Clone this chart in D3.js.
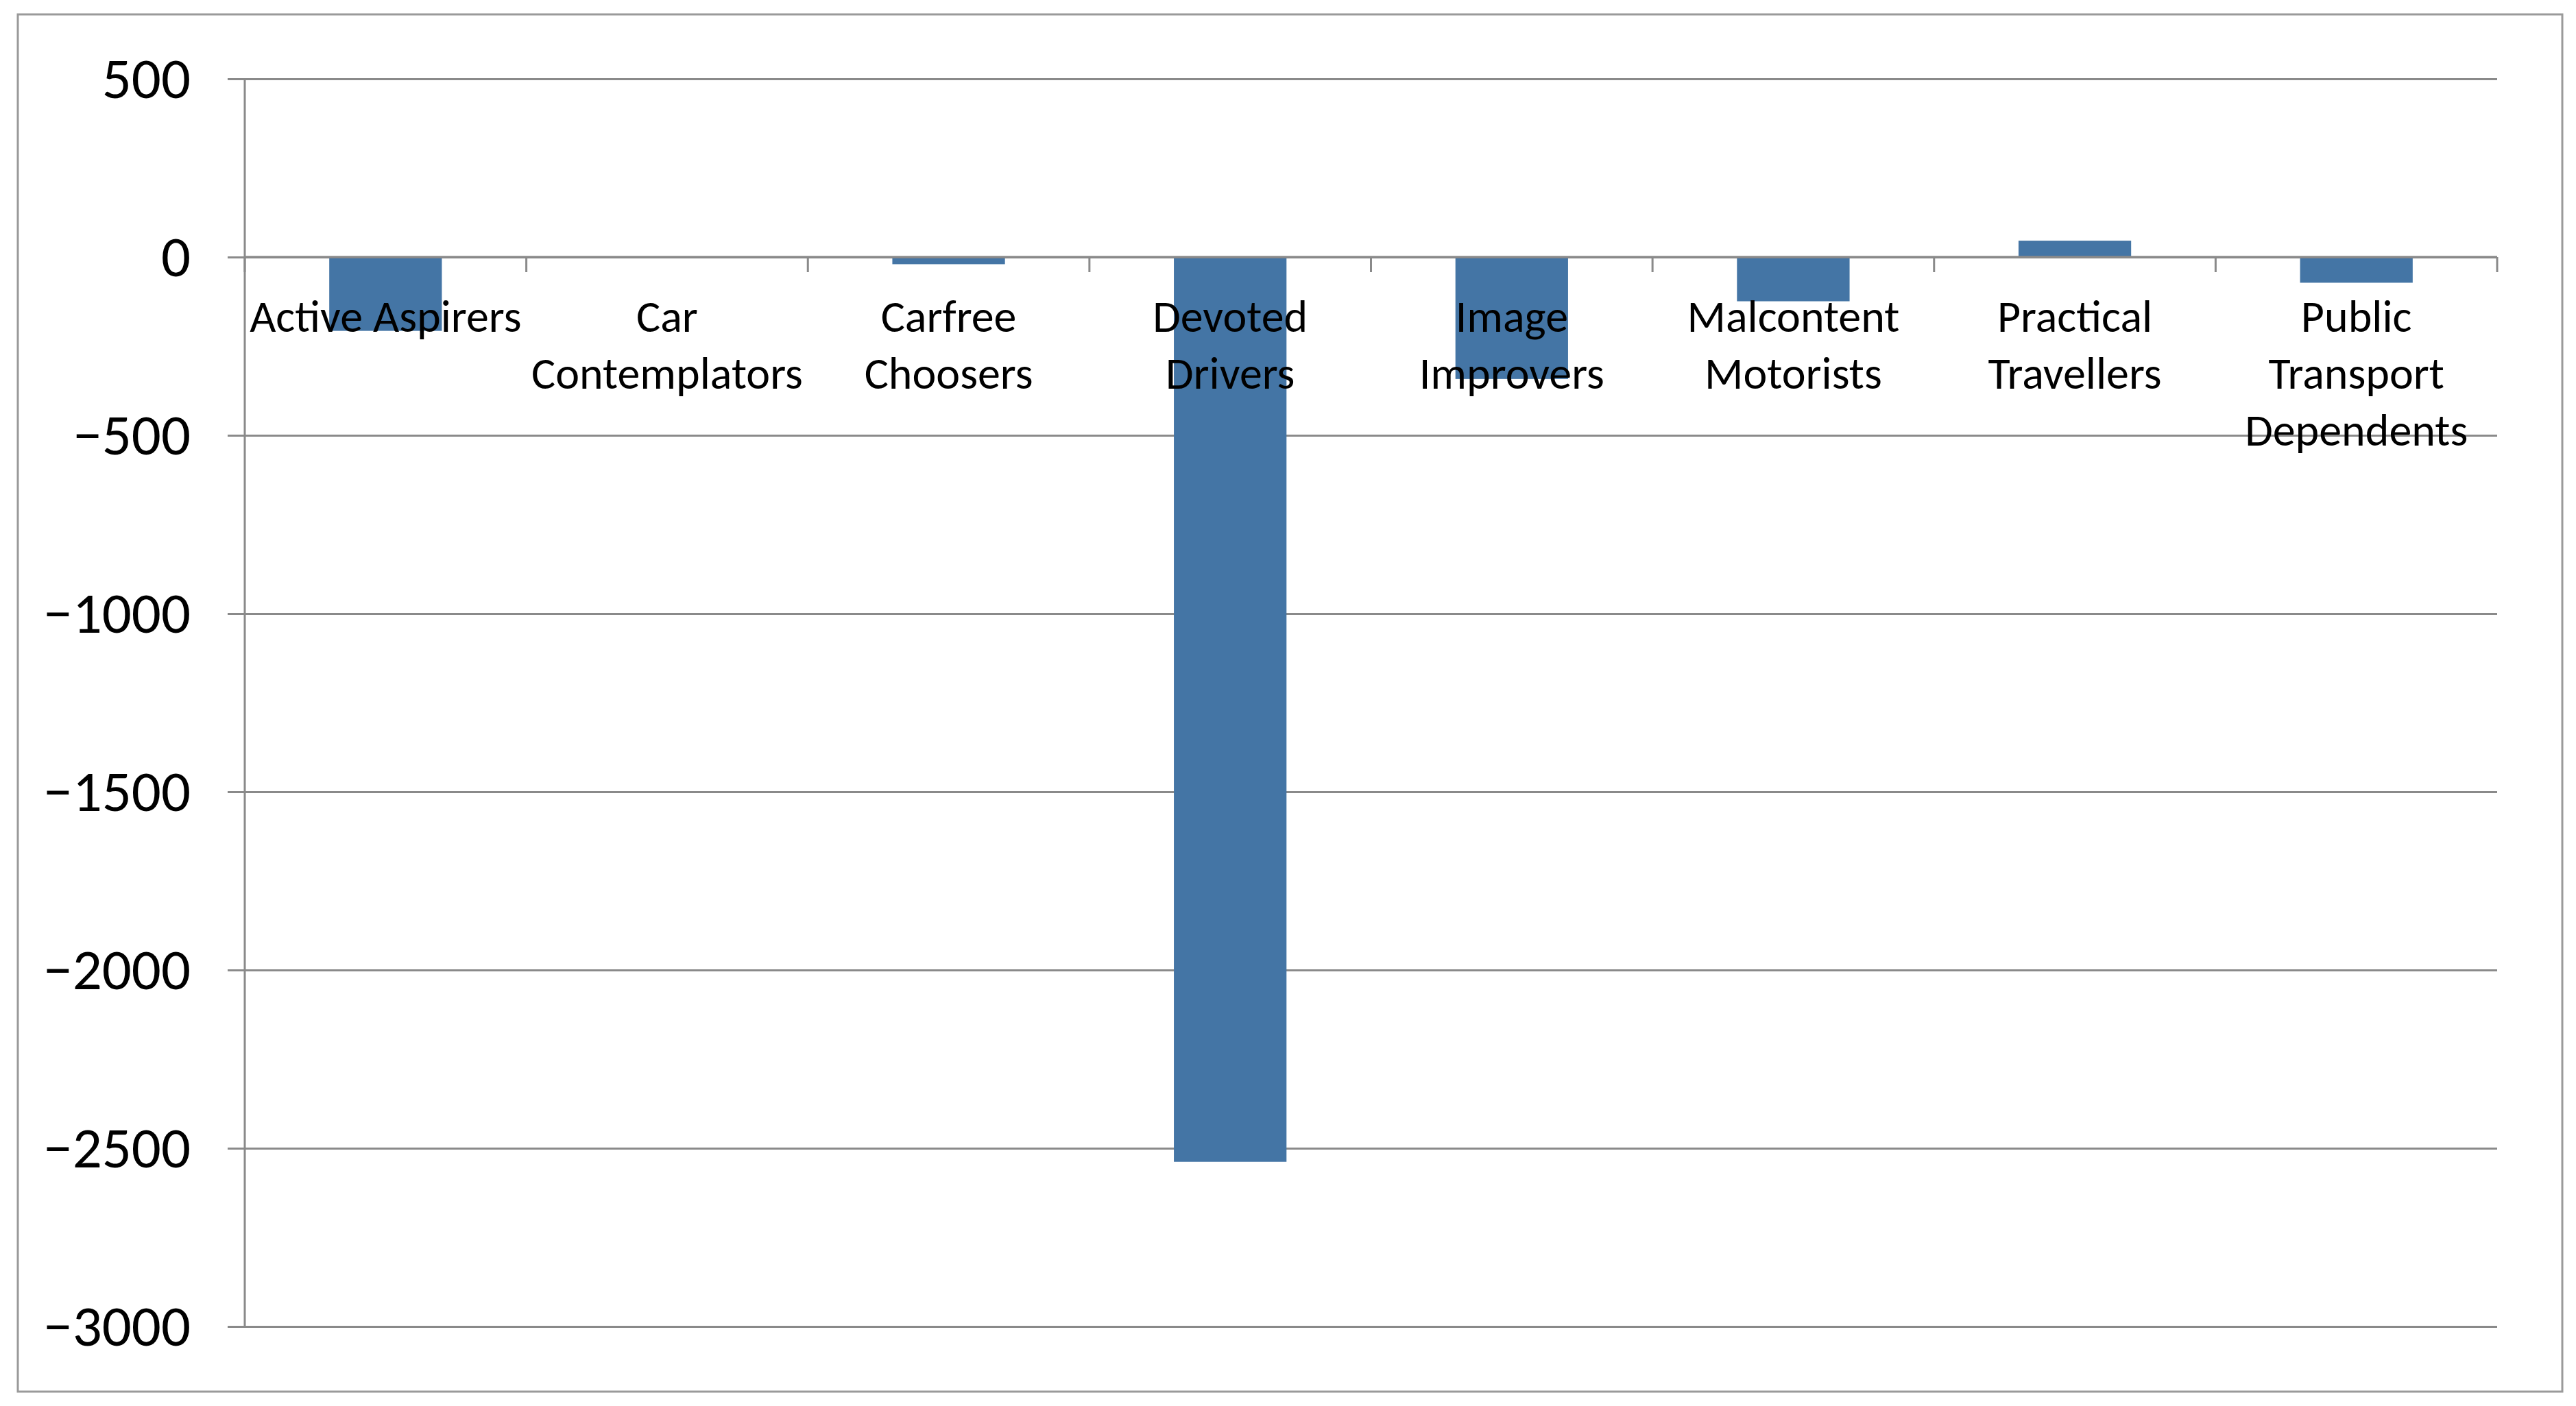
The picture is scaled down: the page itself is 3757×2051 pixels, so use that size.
<!DOCTYPE html>
<html>
<head>
<meta charset="utf-8">
<script src="https://cdn.jsdelivr.net/npm/d3@7"></script>
<style>
  body { margin: 0; background: #fff; }
  text { font-family: Carlito, Calibri, "Open Sans", sans-serif; fill: #000; }
</style>
</head>
<body>
<svg id="chart"></svg>
<script>
const categories = [
  "Active Aspirers",
  "Car Contemplators",
  "Carfree Choosers",
  "Devoted Drivers",
  "Image Improvers",
  "Malcontent Motorists",
  "Practical Travellers",
  "Public Transport Dependents",
];
// how the category labels wrap under the axis
const categoryLines = [
  ["Active Aspirers"],
  ["Car", "Contemplators"],
  ["Carfree", "Choosers"],
  ["Devoted", "Drivers"],
  ["Image", "Improvers"],
  ["Malcontent", "Motorists"],
  ["Practical", "Travellers"],
  ["Public", "Transport", "Dependents"],
];
const values = [-207, 0, -20, -2538, -342, -124, 46, -72];
const yTicks = [500, 0, -500, -1000, -1500, -2000, -2500, -3000];

const W = 3757, H = 2051;
const margin = { top: 115, right: 115, bottom: 116, left: 357 };
const plotW = W - margin.left - margin.right;
const plotH = H - margin.top - margin.bottom;
const gridColor = "#8a8a8a";

const svg = d3.select("#chart").attr("width", W).attr("height", H);

// outer chart border
svg.append("rect")
  .attr("x", 26).attr("y", 21)
  .attr("width", 3737 - 26).attr("height", 2030 - 21)
  .attr("fill", "none")
  .attr("stroke", "#9a9a9a")
  .attr("stroke-width", 3);

const g = svg.append("g").attr("transform", `translate(${margin.left},${margin.top})`);

const x = d3.scaleBand().domain(categories).range([0, plotW]).paddingInner(0.6).paddingOuter(0.3);
const y = d3.scaleLinear().domain([-3000, 500]).range([plotH, 0]);

// y axis with gridlines
const yAxis = g.append("g")
  .call(d3.axisLeft(y).tickValues(yTicks).tickSize(-plotW).tickPadding(79)
    .tickFormat((d) => (d < 0 ? "\u2212" + Math.abs(d) : d)));
yAxis.select(".domain").remove();
yAxis.selectAll(".tick line")
  .attr("x1", -25)
  .attr("stroke", gridColor)
  .attr("stroke-width", 3);
yAxis.selectAll(".tick text")
  .attr("font-size", 85)
  .attr("font-family", null)
  .attr("fill", "#000");

// vertical axis line
g.append("line")
  .attr("x1", 0).attr("x2", 0)
  .attr("y1", 0).attr("y2", plotH)
  .attr("stroke", gridColor).attr("stroke-width", 3);

// bars
g.selectAll("rect.bar")
  .data(values)
  .join("rect")
  .attr("class", "bar")
  .attr("x", (d, i) => x(categories[i]))
  .attr("width", x.bandwidth())
  .attr("y", (d) => y(Math.max(0, d)))
  .attr("height", (d) => Math.abs(y(d) - y(0)))
  .attr("fill", "#4475a5");

// category axis at zero
const step = x.step();
g.append("line")
  .attr("x1", 0).attr("x2", plotW)
  .attr("y1", y(0)).attr("y2", y(0))
  .attr("stroke", gridColor).attr("stroke-width", 3.5);
g.selectAll("line.cat-tick")
  .data(d3.range(categories.length + 1))
  .join("line")
  .attr("class", "cat-tick")
  .attr("x1", (i) => i * step).attr("x2", (i) => i * step)
  .attr("y1", y(0)).attr("y2", y(0) + 22)
  .attr("stroke", gridColor).attr("stroke-width", 3);

// category labels
const labels = g.selectAll("text.cat")
  .data(categoryLines)
  .join("text")
  .attr("class", "cat")
  .attr("text-anchor", "middle")
  .attr("font-size", 66)
  .attr("transform", (d, i) => `translate(${x(categories[i]) + x.bandwidth() / 2},${y(0) + 109})`);
labels.selectAll("tspan")
  .data((d) => d)
  .join("tspan")
  .attr("x", 0)
  .attr("y", (d, i) => i * 83)
  .text((d) => d);
</script>
</body>
</html>
